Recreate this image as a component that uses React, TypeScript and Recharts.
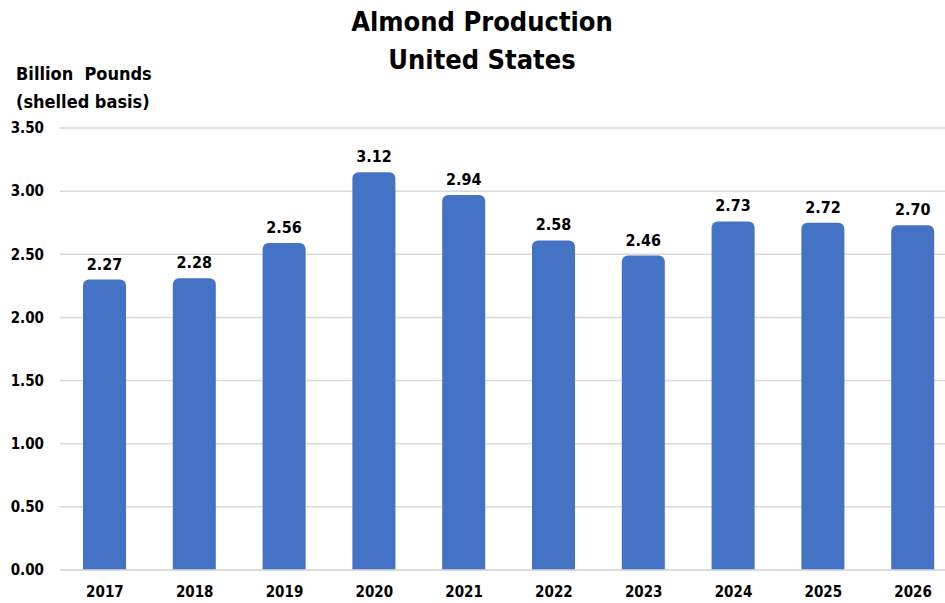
import React from "react";
import { BarChart, Bar, XAxis, YAxis, CartesianGrid, LabelList } from "recharts";

const years = ["2017", "2018", "2019", "2020", "2021", "2022", "2023", "2024", "2025", "2026"];
// bar heights as drawn in the picture
const barHeights = [2.30, 2.31, 2.59, 3.15, 2.97, 2.61, 2.49, 2.76, 2.75, 2.73];
// value labels printed above the bars
const valueLabels = ["2.27", "2.28", "2.56", "3.12", "2.94", "2.58", "2.46", "2.73", "2.72", "2.70"];
const yTicks = [0, 0.5, 1, 1.5, 2, 2.5, 3, 3.5];

const data = years.map((y, i) => ({ year: y, value: barHeights[i], label: valueLabels[i] }));

const FONT = "'Liberation Sans Narrow', 'DejaVu Sans Condensed', 'Liberation Sans', sans-serif";

export default function App() {
  return (
    <div style={{ position: "absolute", left: 0, top: 0, width: 945, height: 603, overflow: "hidden", background: "#fff", fontFamily: FONT }}>
      <div style={{ position: "absolute", left: 0, width: 964, top: 3, textAlign: "center", fontWeight: 700, fontSize: 27, lineHeight: "38px", color: "#000" }}>
        <div>Almond Production</div>
        <div>United States</div>
      </div>
      <div style={{ position: "absolute", left: 16, top: 60, fontWeight: 700, fontSize: 18, lineHeight: "28px", color: "#000" }}>
        <div>Billion&nbsp; Pounds</div>
        <div>(shelled basis)</div>
      </div>
      <div style={{ position: "absolute", left: 0, top: 0 }}>
        <BarChart width={958} height={603} data={data} margin={{ top: 128, right: 0, left: 0, bottom: 0 }} barSize={43}>
          <CartesianGrid vertical={false} stroke="#D9D9D9" strokeWidth={1.5} />
          <XAxis
            dataKey="year"
            height={33}
            axisLine={{ stroke: "#D9D9D9", strokeWidth: 1.5 }}
            tickLine={false}
            tickMargin={10}
            tick={{ fill: "#000", fontSize: 15, fontWeight: 700, fontFamily: FONT }}
            interval={0}
          />
          <YAxis
            width={60}
            domain={[0, 3.5]}
            ticks={yTicks}
            axisLine={false}
            tickLine={false}
            tickMargin={10}
            tickFormatter={(v: number) => v.toFixed(2)}
            tick={{ fill: "#000", fontSize: 15, fontWeight: 700, fontFamily: FONT }}
          />
          <Bar dataKey="value" fill="#4472C4" radius={[6, 6, 0, 0]} isAnimationActive={false}>
            <LabelList dataKey="label" position="top" offset={10} fill="#000" fontSize={16} fontWeight={700} fontFamily={FONT} />
          </Bar>
        </BarChart>
      </div>
    </div>
  );
}
